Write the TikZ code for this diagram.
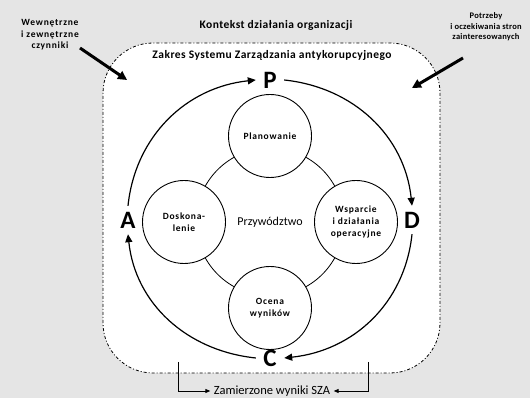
\documentclass[tikz,border=0pt]{standalone}
\usepackage{fontspec}
\setmainfont{Carlito}
\usetikzlibrary{arrows.meta}
\begin{document}
\begin{tikzpicture}[x=1pt,y=1pt,
  letter/.style={circle,minimum size=28pt,inner sep=0pt,font=\fontsize{25}{25}\selectfont\bfseries},
  cycle/.style={line width=1.2pt,-{Triangle[length=8pt,width=7pt]}},
  phase/.style={circle,draw,line width=0.9pt,fill=white,minimum size=83pt,inner sep=0pt,align=center,font=\fontsize{9.5}{12}\selectfont\bfseries\addfontfeatures{LetterSpace=8}},
  bigarrow/.style={line width=3pt,-{Triangle[length=9pt,width=9pt]}},
  side/.style={align=center,font=\fontsize{9.5}{11.5}\selectfont\bfseries\addfontfeatures{LetterSpace=8}},
  sidesmall/.style={align=center,font=\fontsize{8.5}{10.5}\selectfont\bfseries\addfontfeatures{LetterSpace=3}},
  heading/.style={font=\fontsize{11.5}{12}\selectfont\bfseries\addfontfeatures{LetterSpace=4}},
  scopebox/.style={draw,fill=white,rounded corners=50pt,dash pattern=on 3pt off 2pt on 1pt off 2pt,line width=0.8pt},
  bracket/.style={line width=0.9pt,-{Triangle[length=5pt,width=4pt]}},
]
\useasboundingbox (0,0) rectangle (530,398);
\clip (0,0) rectangle (530,398);
\fill[black!10] (0,0) rectangle (530,398);
\draw[scopebox] (103,25) rectangle (440,355);

% headings
\node[heading] (ctx) at (276,373) {Kontekst działania organizacji};
\node[heading] (scope) at (272,343) {Zakres Systemu Zarządzania antykorupcyjnego};

% side texts
\node[side] (inner) at (50,363) {Wewnętrzne\\i zewnętrzne\\czynniki};
\node[sidesmall] (needs) at (486,371) {Potrzeby\\i oczekiwania stron\\zainteresowanych};
\coordinate (tlS) at (80,350); \coordinate (tlE) at (127,318);
\coordinate (trS) at (463,340); \coordinate (trE) at (412,310);
\draw[bigarrow] (tlS) -- (tlE);
\draw[bigarrow] (trS) -- (trE);

% inner ring
\coordinate (O) at (270,176);
\draw[line width=0.8pt] (O) circle[radius=74];
\node[font=\fontsize{12}{12}\selectfont] (lead) at (O) {Przywództwo};
\node[phase] (plan) at (270,262) {Planowanie};
\node[phase] (supp) at (356,176) {Wsparcie\\i działania\\operacyjne};
\node[phase] (eval) at (270,90) {Ocena\\wyników};
\node[phase] (impr) at (184,176) {Doskona-\\lenie};

% PDCA letters
\node[letter] (P) at (270,318) {P};
\node[letter] (D) at (412,178) {D};
\node[letter] (C) at (270,40) {C};
\node[letter] (A) at (128,178) {A};
\draw[cycle] (P.east) to[out=-6,in=96] (D.north);
\draw[cycle] (D.south) to[out=-96,in=6] (C.east);
\draw[cycle] (C.west) to[out=174,in=-84] (A.south);
\draw[cycle] (A.north) to[out=84,in=-174] (P.west);

% results
\node[font=\fontsize{12.5}{12.5}\selectfont] (res) at (272,7) {Zamierzone wyniki SZA};
\coordinate (bl) at (178,36); \coordinate (br) at (368,36);
\draw[bracket] (bl) |- (res.west);
\draw[bracket] (br) |- (res.east);
\end{tikzpicture}
\end{document}
